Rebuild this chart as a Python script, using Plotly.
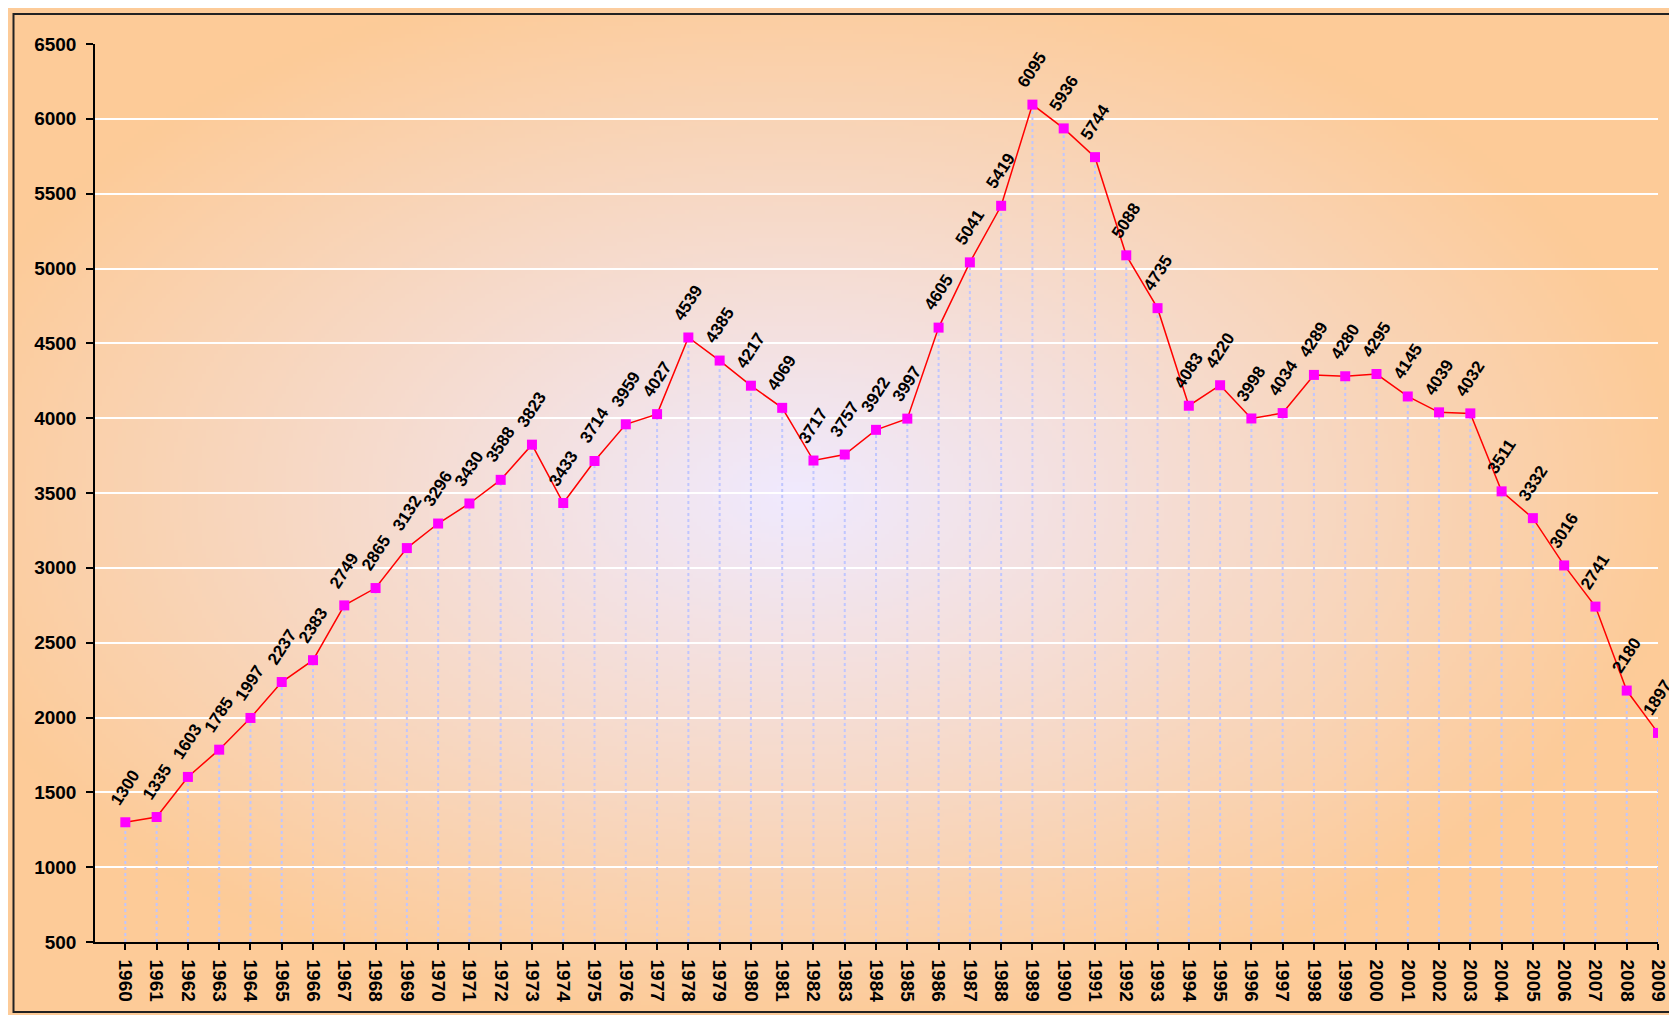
import base64, struct, zlib
import numpy as np
import plotly.graph_objects as go

years = list(range(1960, 2010))
values = [1300, 1335, 1603, 1785, 1997, 2237, 2383, 2749, 2865, 3132,
          3296, 3430, 3588, 3823, 3433, 3714, 3959, 4027, 4539, 4385,
          4217, 4069, 3717, 3757, 3922, 3997, 4605, 5041, 5419, 6095,
          5936, 5744, 5088, 4735, 4083, 4220, 3998, 4034, 4289, 4280,
          4295, 4145, 4039, 4032, 3511, 3332, 3016, 2741, 2180, 1897]
y_ticks = list(range(500, 7000, 500))
y_min, y_max = 500, 6500

OFF = 8  # page body margin
W, H = 1677, 1015
ML, MT = 95 - OFF, 44 - OFF
MR = W - (1658 - OFF)
MB = H - (942 - OFF)
PW, PH = W - ML - MR, H - MT - MB


def make_png(arr):
    h, w, _ = arr.shape
    raw = b"".join(b"\x00" + arr[i].tobytes() for i in range(h))

    def chunk(tag, data):
        c = struct.pack(">I", len(data)) + tag + data
        return c + struct.pack(">I", zlib.crc32(tag + data) & 0xffffffff)
    return (b"\x89PNG\r\n\x1a\n" + chunk(b"IHDR", struct.pack(">IIBBBBB", w, h, 8, 2, 0, 0, 0))
            + chunk(b"IDAT", zlib.compress(raw, 9)) + chunk(b"IEND", b""))


# radial background gradient (peach edges -> lavender centre)
gw, gh = 420, 254
gx = np.linspace(0, 1, gw)[None, :]
gy = np.linspace(0, 1, gh)[:, None]
d = np.sqrt(((gx - 0.47) / 0.53) ** 2 + ((gy - 0.48) / 0.53) ** 2)
d = np.clip(d, 0, 1) ** 1.0
centre = np.array([240, 234, 255], float)
edge = np.array([253, 203, 152], float)
img = (centre[None, None, :] * (1 - d[..., None]) + edge[None, None, :] * d[..., None]).astype(np.uint8)
uri = "data:image/png;base64," + base64.b64encode(make_png(img)).decode()


def px_x(p):  # page px -> paper
    return (p - OFF - ML) / PW


def px_y(p):
    return (H - MB - (p - OFF)) / PH


FONT = "Arial, Liberation Sans"
fig = go.Figure()

# drop lines
dx, dy = [], []
for yr, v in zip(years, values):
    dx += [yr, yr, None]
    dy += [y_min, v, None]
fig.add_trace(go.Scatter(x=dx, y=dy, mode="lines", hoverinfo="skip",
                         line=dict(color="#c0c6ff", width=2, dash="dot"), showlegend=False))

fig.add_trace(go.Scatter(x=years, y=values, mode="lines+markers",
                         line=dict(color="#ff0000", width=1.5),
                         marker=dict(symbol="square", size=10, color="#ff00ff"),
                         showlegend=False))

for yr, v in zip(years, values):
    fig.add_annotation(x=yr, y=v, text=str(v), showarrow=False, textangle=-57,
                       yshift=35, font=dict(family=FONT, size=17, color="black", weight="bold"))

fig.add_layout_image(dict(source=uri, xref="paper", yref="paper",
                          x=px_x(OFF), y=px_y(OFF), sizex=px_x(W + OFF) - px_x(OFF),
                          sizey=px_y(OFF) - px_y(H + OFF),
                          xanchor="left", yanchor="top", sizing="stretch", layer="below"))

fig.add_shape(type="rect", xref="paper", yref="paper",
              x0=px_x(13.5), x1=px_x(W + 20), y0=px_y(1012), y1=px_y(14),
              line=dict(color="#222222", width=2))

fig.update_layout(
    width=W, height=H,
    margin=dict(l=ML, r=MR, t=MT, b=MB),
    paper_bgcolor="white", plot_bgcolor="rgba(0,0,0,0)",
    font=dict(family=FONT, color="black"),
    xaxis=dict(range=[1959.03, 2009], tickvals=years, ticktext=[str(y) for y in years],
               tickangle=90, showgrid=False, zeroline=False,
               showline=True, linecolor="black", linewidth=1.5,
               ticks="outside", ticklen=6, tickcolor="black", tickwidth=1.5,
               ticklabelstandoff=6,
               tickfont=dict(size=19, family=FONT, weight="bold")),
    yaxis=dict(range=[y_min, y_max], tickvals=y_ticks, showgrid=True, gridcolor="white",
               gridwidth=1.5, zeroline=False,
               showline=True, linecolor="black", linewidth=1.5,
               ticks="outside", ticklen=7, tickcolor="black", tickwidth=1.5,
               ticklabelstandoff=6,
               tickfont=dict(size=19, family=FONT, weight="bold")),
)

fig.write_html("out.html")
